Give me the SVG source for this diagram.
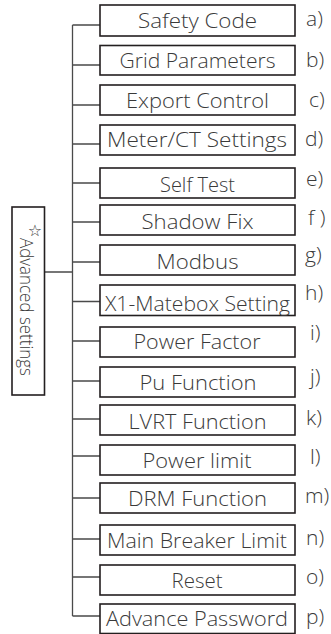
<svg xmlns="http://www.w3.org/2000/svg" width="331" height="634" viewBox="0 0 331 634">
<style>
.box{fill:#fff;stroke:#231f20;stroke-width:1.6}
.t{font-family:"Open Sans","Liberation Sans",sans-serif;font-weight:300;font-size:21px;fill:#3a3a3a;text-anchor:middle}
.lb{font-family:"Open Sans","Liberation Sans",sans-serif;font-weight:300;font-size:21px;fill:#3a3a3a}
.c{stroke:#4a4a4a;stroke-width:1.3;fill:none}
</style>
<rect width="331" height="634" fill="#fff"/>
<g id="connectors">
<path class="c" d="M72.5,25V616M44.5,272H72.5M72.5,25H100M72.5,65H100M72.5,105H100M72.5,144H100M72.5,183H100M72.5,222H100M72.5,262H100M72.5,301.5H100M72.5,341H100M72.5,381H100M72.5,419H100M72.5,456H100M72.5,498H100M72.5,539H100M72.5,577H100M72.5,616H100"/>
</g>
<g id="root">
<rect class="box" x="12" y="207" width="32.5" height="188"/>
<text x="35" y="236" font-family="DejaVu Sans,sans-serif" font-size="16" fill="#3a3a3a" text-anchor="middle">☆</text>
<text transform="translate(20,238) rotate(90)" font-family="Open Sans,Liberation Sans,sans-serif" font-weight="300" font-size="18" fill="#3a3a3a" textLength="138" lengthAdjust="spacingAndGlyphs">Advanced settings</text>
</g>
<g id="n1"><rect class="box" x="100" y="5" width="195" height="31"/><text class="t" x="197.5" y="27.5" textLength="119" lengthAdjust="spacingAndGlyphs">Safety Code</text><text class="lb" x="306" y="26">a)</text></g>
<g id="n2"><rect class="box" x="100" y="45.5" width="195" height="29.5"/><text class="t" x="197.5" y="68" textLength="156" lengthAdjust="spacingAndGlyphs">Grid Parameters</text><text class="lb" x="306" y="67">b)</text></g>
<g id="n3"><rect class="box" x="100" y="85" width="195" height="30"/><text class="t" x="197.5" y="107.5" textLength="143" lengthAdjust="spacingAndGlyphs">Export Control</text><text class="lb" x="309" y="107">c)</text></g>
<g id="n4"><rect class="box" x="100" y="125" width="195" height="30"/><text class="t" x="197" y="147" textLength="180" lengthAdjust="spacingAndGlyphs">Meter/CT Settings</text><text class="lb" x="305" y="146">d)</text></g>
<g id="n5"><rect class="box" x="100" y="168" width="195" height="30"/><text class="t" x="197.5" y="191.5" textLength="75" lengthAdjust="spacingAndGlyphs">Self Test</text><text class="lb" x="306" y="186">e)</text></g>
<g id="n6"><rect class="box" x="100" y="205" width="195" height="30"/><text class="t" x="197.5" y="228.5" textLength="112" lengthAdjust="spacingAndGlyphs">Shadow Fix</text><text class="lb" x="308" y="225">f )</text></g>
<g id="n7"><rect class="box" x="100" y="245" width="195" height="30"/><text class="t" x="197.5" y="268.5" textLength="82" lengthAdjust="spacingAndGlyphs">Modbus</text><text class="lb" x="305" y="262">g)</text></g>
<g id="n8"><rect class="box" x="100" y="285" width="195" height="30.5"/><text class="t" x="197.5" y="310.5" textLength="185" lengthAdjust="spacingAndGlyphs">X1-Matebox Setting</text><text class="lb" x="305" y="300">h)</text></g>
<g id="n9"><rect class="box" x="100" y="327" width="195" height="30"/><text class="t" x="197" y="349" textLength="127" lengthAdjust="spacingAndGlyphs">Power Factor</text><text class="lb" x="310" y="340">i)</text></g>
<g id="n10"><rect class="box" x="100" y="367" width="195" height="30"/><text class="t" x="198" y="390" textLength="117" lengthAdjust="spacingAndGlyphs">Pu Function</text><text class="lb" x="310" y="384">j)</text></g>
<g id="n11"><rect class="box" x="100" y="405" width="195" height="30"/><text class="t" x="197.5" y="428.5" textLength="138" lengthAdjust="spacingAndGlyphs">LVRT Function</text><text class="lb" x="306" y="425">k)</text></g>
<g id="n12"><rect class="box" x="100" y="445" width="195" height="30"/><text class="t" x="197" y="468" textLength="109" lengthAdjust="spacingAndGlyphs">Power limit</text><text class="lb" x="310" y="464">l)</text></g>
<g id="n13"><rect class="box" x="100" y="483" width="195" height="30"/><text class="t" x="197.5" y="505.5" textLength="139" lengthAdjust="spacingAndGlyphs">DRM Function</text><text class="lb" x="305" y="503">m)</text></g>
<g id="n14"><rect class="box" x="100" y="525" width="195" height="30"/><text class="t" x="197" y="547.5" textLength="180" lengthAdjust="spacingAndGlyphs">Main Breaker Limit</text><text class="lb" x="306" y="545">n)</text></g>
<g id="n15"><rect class="box" x="100" y="565" width="195" height="30"/><text class="t" x="197" y="587.5" textLength="51" lengthAdjust="spacingAndGlyphs">Reset</text><text class="lb" x="306" y="584">o)</text></g>
<g id="n16"><rect class="box" x="100" y="604" width="195" height="29.5"/><text class="t" x="197" y="626" textLength="182" lengthAdjust="spacingAndGlyphs">Advance Password</text><text class="lb" x="306" y="624">p)</text></g>
</svg>
